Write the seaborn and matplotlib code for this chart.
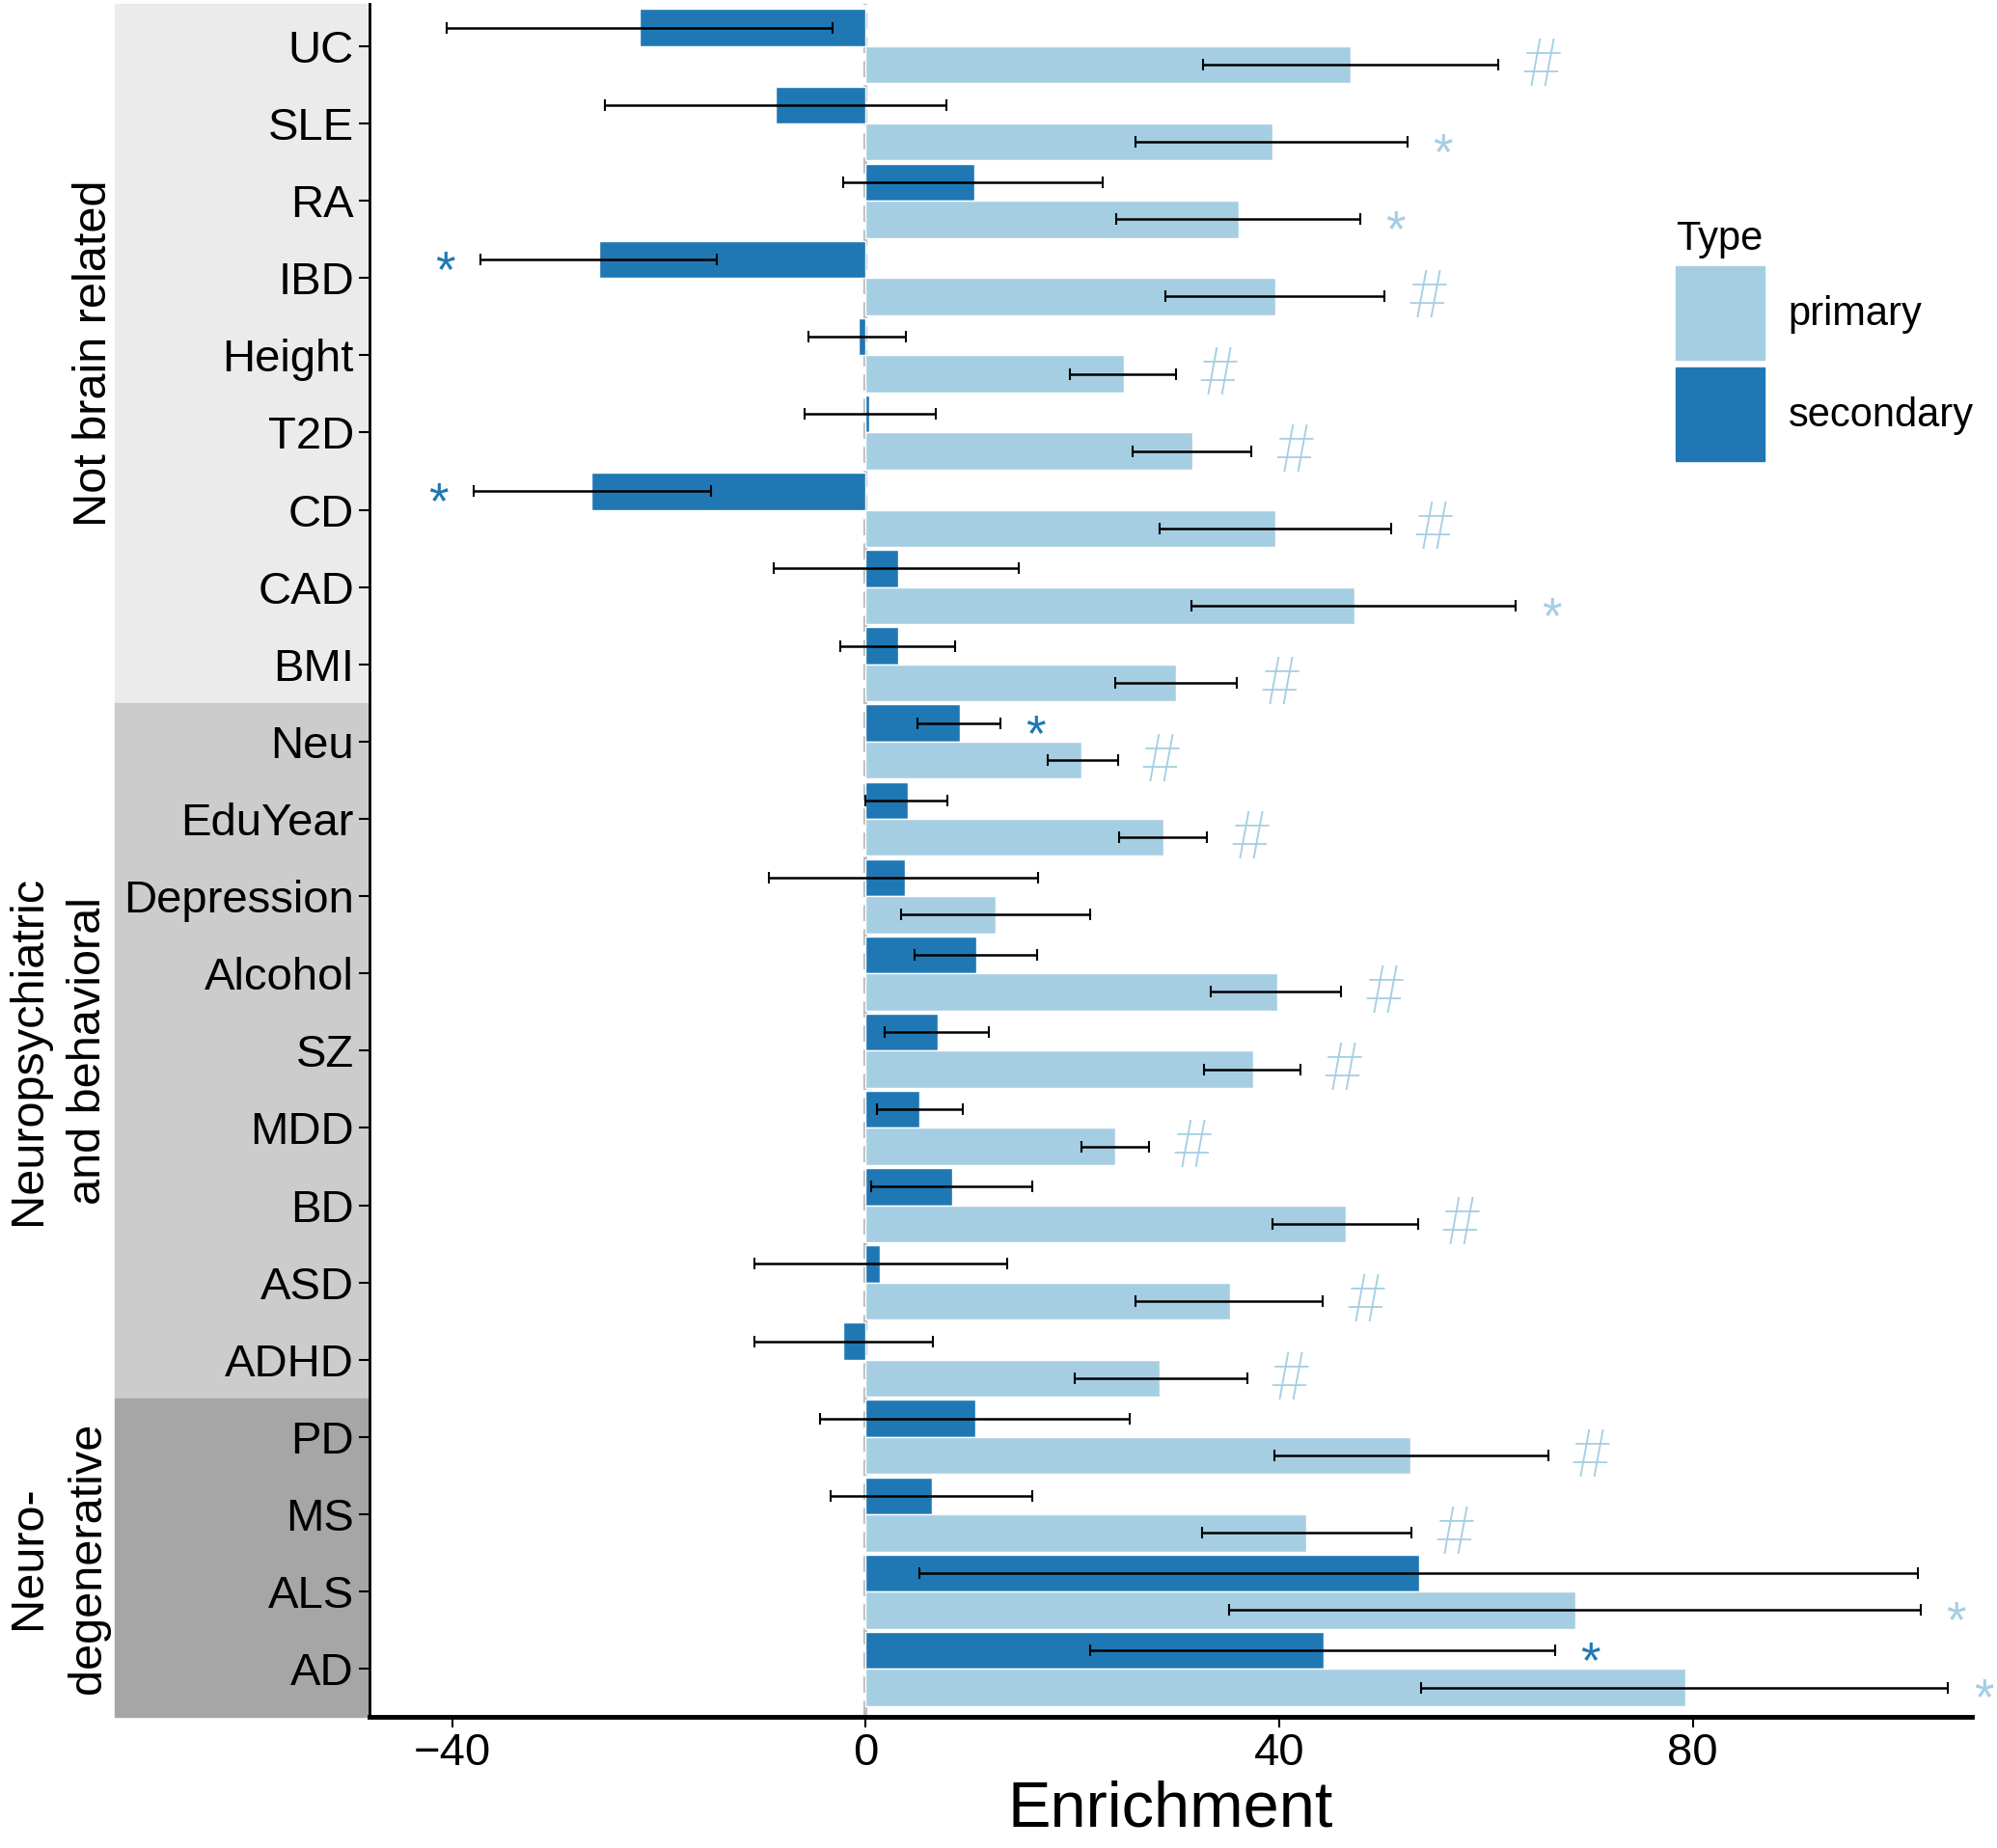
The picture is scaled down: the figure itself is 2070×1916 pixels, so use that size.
import pandas as pd
import seaborn as sns
import matplotlib.pyplot as plt
import matplotlib.transforms as mtransforms
from matplotlib.patches import Patch, Rectangle

# traits, top to bottom
traits = ['UC', 'SLE', 'RA', 'IBD', 'Height', 'T2D', 'CD', 'CAD', 'BMI',
          'Neu', 'EduYear', 'Depression', 'Alcohol', 'SZ', 'MDD', 'BD', 'ASD', 'ADHD',
          'PD', 'MS', 'ALS', 'AD']

primary = [46.9, 39.3, 36.1, 39.6, 25.0, 31.6, 39.6, 47.3, 30.0,
           20.9, 28.8, 12.6, 39.8, 37.5, 24.1, 46.4, 35.2, 28.4,
           52.7, 42.6, 68.6, 79.3]
primary_lo = [32.6, 26.1, 24.2, 29.0, 19.7, 25.8, 28.4, 31.5, 24.1,
              17.6, 24.5, 3.4, 33.4, 32.7, 20.9, 39.3, 26.1, 20.2,
              39.5, 32.5, 35.1, 53.7]
primary_hi = [61.2, 52.4, 47.8, 50.2, 30.0, 37.3, 50.8, 62.9, 35.9,
              24.4, 33.0, 21.7, 46.0, 42.0, 27.4, 53.4, 44.2, 36.9,
              66.0, 52.8, 102.0, 104.7]

secondary = [-21.9, -8.7, 10.5, -25.8, -0.7, 0.3, -26.5, 3.1, 3.1,
             9.1, 4.1, 3.8, 10.7, 7.0, 5.2, 8.4, 1.4, -2.2,
             10.6, 6.4, 53.5, 44.3]
secondary_lo = [-40.5, -25.2, -2.2, -37.3, -5.5, -5.9, -37.9, -8.9, -2.5,
                5.0, 0.0, -9.4, 4.7, 1.8, 1.1, 0.5, -10.8, -10.8,
                -4.4, -3.4, 5.2, 21.7]
secondary_hi = [-3.2, 7.8, 22.9, -14.4, 3.9, 6.8, -15.0, 14.8, 8.6,
                13.0, 7.9, 16.7, 16.6, 11.9, 9.4, 16.1, 13.7, 6.5,
                25.5, 16.1, 101.8, 66.7]

sig_primary = ['#', '*', '*', '#', '#', '#', '#', '*', '#',
               '#', '#', '', '#', '#', '#', '#', '#', '#',
               '#', '#', '*', '*']
sig_secondary = ['', '', '', '*', '', '', '*', '', '',
                 '*', '', '', '', '', '', '', '', '',
                 '', '', '', '*']

groups = ['Not brain related', 'Neuropsychiatric\nand behavioral', 'Neuro-\ndegenerative']
group_sizes = [9, 9, 4]
group_colors = ['#EBEBEB', '#CCCCCC', '#A6A6A6']

colors = {'primary': '#A6CEE3', 'secondary': '#1F78B4'}

df = pd.DataFrame({
    'trait': traits * 2,
    'Type': ['secondary'] * len(traits) + ['primary'] * len(traits),
    'Enrichment': secondary + primary,
})

sns.set_style('ticks')
plt.rcParams['font.family'] = ['Liberation Sans', 'DejaVu Sans']
plt.rcParams['text.color'] = 'black'
plt.rcParams['axes.labelcolor'] = 'black'
plt.rcParams['xtick.color'] = 'black'
plt.rcParams['ytick.color'] = 'black'
plt.rcParams['axes.edgecolor'] = 'black'

fig = plt.figure(figsize=(20.7, 19.16), dpi=100)
ax = fig.add_axes([0.185, 0.071, 0.8025, 0.927])

ax.axvline(0, color='#BDBDBD', ls=(0, (4, 2)), lw=3, zorder=0)

sns.barplot(data=df, y='trait', x='Enrichment', hue='Type',
            hue_order=['secondary', 'primary'], order=traits,
            palette=colors, saturation=1, orient='h', width=0.96,
            edgecolor='white', linewidth=1, legend=False, errorbar=None, ax=ax)

series = [(secondary, secondary_lo, secondary_hi, sig_secondary, colors['secondary']),
          (primary, primary_lo, primary_hi, sig_primary, colors['primary'])]

for cont, (vals, lo, hi, sig, col) in zip(ax.containers, series):
    ys = [b.get_y() + b.get_height() / 2 for b in cont]
    xerr = [[v - l for v, l in zip(vals, lo)], [h - v for v, h in zip(vals, hi)]]
    ax.errorbar(vals, ys, xerr=xerr, fmt='none', ecolor='black',
                elinewidth=1.8, capsize=4.5, capthick=1.5, zorder=3)
    for v, l, h, s, y in zip(vals, lo, hi, sig, ys):
        if not s:
            continue
        off = 4.0 if s == '#' else 3.4
        x = h + off if v >= 0 else l - off
        if s == '#':
            ax.annotate(s, (x, y), xytext=(0, -2), textcoords='offset points',
                        ha='center', va='center', fontsize=50, color=col,
                        family=['Roboto', 'DejaVu Sans'], fontweight='light',
                        annotation_clip=False)
        else:
            ax.annotate(s, (x, y), xytext=(0, -10), textcoords='offset points',
                        ha='center', va='center', fontsize=38, color=col,
                        annotation_clip=False)

ax.set_xlim(-48, 107)
ax.set_ylim(21.62, -0.55)
ax.set_xticks([-40, 0, 40, 80])
ax.set_ylabel('')
ax.set_xlabel('Enrichment', fontsize=48, labelpad=4)
ax.tick_params(axis='both', labelsize=34, length=8, width=1.5, color='black')
sns.despine(ax=ax)
ax.spines['left'].set_linewidth(2)
ax.spines['bottom'].set_linewidth(3.5)

# group bands behind the trait labels
trans = mtransforms.blended_transform_factory(ax.transAxes, ax.transData)
edges = [-0.55]
start = 0
for n in group_sizes:
    start += n
    edges.append(start - 0.5)
edges[-1] = 21.62
for name, c, y0, y1 in zip(groups, group_colors, edges[:-1], edges[1:]):
    ax.add_patch(Rectangle((-0.159, y0), 0.159, y1 - y0, transform=trans,
                           color=c, clip_on=False, zorder=-1))
    xpos = -0.172 if '\n' not in name else -0.194
    ax.text(xpos, (y0 + y1) / 2, name, transform=trans, rotation=90,
            ha='center', va='center', ma='center', fontsize=35,
            linespacing=1.5)

handles = [Patch(color=colors['primary']), Patch(color=colors['secondary'])]
ax.legend(handles, ['primary', 'secondary'], title='Type', frameon=False,
          fontsize=30, title_fontsize=30, handlelength=2.2, handleheight=3.2,
          labelspacing=0.2, handletextpad=0.6, borderpad=0, alignment='left',
          loc='upper left', bbox_to_anchor=(0.829, 0.892),
          bbox_transform=fig.transFigure)

fig.savefig('out.png', dpi=100)
